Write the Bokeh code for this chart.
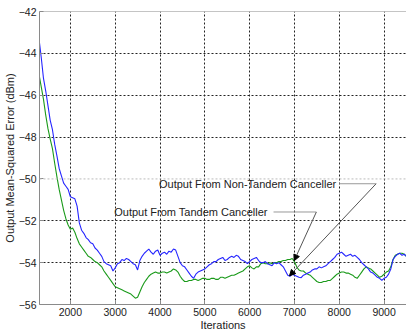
from bokeh.plotting import figure
from bokeh.models import FixedTicker, Span, Label, Arrow, NormalHead, ColumnDataSource, Range1d
from bokeh.embed import file_html
from bokeh.resources import INLINE

iterations = list(range(1300, 9501, 50))

non_tandem = [
    -43.3, -44.2, -45.2, -45.8, -46.5, -47.2, -47.65, -48.35, -48.9, -49.5,
    -49.85, -50.2, -50.35, -50.5, -50.85, -50.9, -50.95, -51.3, -52.1, -52.45,
    -52.6, -52.8, -52.9, -53.05, -53.1, -53.3, -53.4, -53.55, -53.7, -53.95,
    -54.05, -54.1, -54.15, -54.4, -54.25, -54.05, -54.0, -53.85, -53.9, -53.8,
    -53.85, -53.95, -54.05, -54.1, -54.35, -53.9, -53.7, -53.55, -53.45, -53.35,
    -53.5, -53.6, -53.45, -53.4, -53.65, -53.55, -53.5, -53.6, -53.45, -53.5,
    -53.35, -53.4, -53.7, -54.0, -54.15, -54.2, -54.35, -54.5, -54.65, -54.75,
    -54.55, -54.45, -54.4, -54.35, -54.3, -54.2, -54.1, -54.05, -53.95, -53.95,
    -53.85, -53.8, -53.75, -53.9, -53.85, -53.75, -53.7, -53.75, -53.65, -53.7,
    -53.85, -53.9, -53.95, -54.05, -53.95, -53.85, -53.8, -53.75, -53.9, -54.0,
    -54.0, -53.95, -54.05, -54.1, -54.15, -54.0, -54.05, -54.0, -54.1, -54.2,
    -54.4, -54.6, -54.65, -54.55, -54.6, -54.65, -54.7, -54.72, -54.6, -54.55,
    -54.5, -54.45, -54.35, -54.3, -54.3, -54.2, -54.25, -54.2, -54.15, -54.05,
    -53.95, -53.85, -53.75, -53.6, -53.55, -53.5, -53.6, -53.7, -53.65, -53.6,
    -53.7, -53.65, -53.75, -53.85, -54.0, -54.1, -54.2, -54.3, -54.45, -54.5,
    -54.6, -54.7, -54.75, -54.85, -54.75, -54.7, -54.55, -54.3, -53.85, -53.7,
    -53.6, -53.55, -53.65, -53.6, -53.7,
]

tandem = [
    -45.0, -45.6, -46.2, -46.95, -47.6, -48.1, -48.55, -49.25, -49.9, -50.5,
    -51.0, -51.5, -51.9, -52.2, -52.4, -52.35, -52.55, -52.85, -53.1, -53.25,
    -53.4, -53.55, -53.7, -53.75, -53.85, -53.95, -54.0, -54.1, -54.2, -54.4,
    -54.55, -54.7, -54.85, -55.0, -55.15, -55.2, -55.25, -55.3, -55.35, -55.4,
    -55.45, -55.5, -55.6, -55.7, -55.65, -55.4, -55.15, -54.95, -54.8, -54.65,
    -54.55, -54.5, -54.45, -54.5, -54.5, -54.45, -54.45, -54.5, -54.45, -54.4,
    -54.3, -54.35, -54.45, -54.65, -54.8, -54.9, -54.9, -54.85, -54.85, -54.8,
    -54.8, -54.85, -54.8, -54.75, -54.75, -54.8, -54.8, -54.75, -54.75, -54.8,
    -54.8, -54.7, -54.7, -54.75, -54.7, -54.65, -54.6, -54.6, -54.55, -54.5,
    -54.45, -54.4, -54.3, -54.2, -54.15, -54.25, -54.3, -54.2, -54.2, -54.05,
    -54.0, -54.05, -54.05, -54.0, -54.05, -54.0, -54.0, -53.95, -53.95, -53.9,
    -53.9, -53.85, -53.85, -53.8, -53.95, -54.2, -54.35, -54.4, -54.4, -54.5,
    -54.55, -54.6, -54.7, -54.8, -54.9, -54.95, -54.95, -54.9, -54.9, -54.85,
    -54.85, -54.75, -54.65, -54.55, -54.5, -54.45, -54.45, -54.5, -54.5, -54.55,
    -54.6, -54.7, -54.75, -54.6, -54.45, -54.3, -54.2, -54.25, -54.3, -54.4,
    -54.5, -54.6, -54.7, -54.65, -54.55, -54.45, -54.4, -54.2, -53.85, -53.65,
    -53.6, -53.55, -53.55, -53.6, -53.7,
]

x_ticks = [2000, 3000, 4000, 5000, 6000, 7000, 8000, 9000]
y_ticks = [-56, -54, -52, -50, -48, -46, -44, -42]

label_non_tandem = "Output From Non-Tandem Canceller"
label_tandem = "Output From Tandem Canceller"

FONT = "Liberation Sans"

p = figure(width=406, height=334, output_backend="svg", toolbar_location=None,
           x_range=Range1d(1311, 9500), y_range=Range1d(-56, -42),
           min_border_left=37, min_border_right=0, min_border_top=11, min_border_bottom=30)
p.outline_line_color = None
p.background_fill_color = "white"
p.border_fill_color = "white"

for ax in (p.xaxis[0], p.yaxis[0]):
    ax.axis_line_color = "#8a8a8a"
    ax.major_tick_line_color = "#8a8a8a"
    ax.major_tick_in = 4
    ax.major_tick_out = 0
    ax.minor_tick_line_color = None
    ax.major_label_text_font = FONT
    ax.major_label_text_font_size = "10.5px"
    ax.major_label_text_color = "#222222"
    ax.axis_label_text_font = FONT
    ax.axis_label_text_font_size = "11px"
    ax.axis_label_text_font_style = "normal"
    ax.axis_label_text_color = "#222222"
    ax.major_label_standoff = 3
    ax.axis_label_standoff = 0

p.xaxis.ticker = FixedTicker(ticks=x_ticks)
p.yaxis.ticker = FixedTicker(ticks=y_ticks)
p.xaxis.axis_label = "Iterations"
p.yaxis.axis_label = "Output Mean-Squared Error (dBm)"

p.xgrid.ticker = FixedTicker(ticks=x_ticks)
p.ygrid.ticker = FixedTicker(ticks=[t for t in y_ticks if t not in (-50, -42, -56)])
for g in (p.xgrid[0], p.ygrid[0]):
    g.grid_line_color = "#222222"
    g.grid_line_dash = "2 2"
    g.grid_line_width = 1

p.add_layout(Span(location=-50, dimension="width", line_color="#bbbbbb", line_dash="2 2", line_width=1))
p.add_layout(Span(location=-42, dimension="width", line_color="#8a8a8a", line_width=1))

p.line(iterations, tandem, line_color="#1a9a1a", line_width=1.1)
p.line(iterations, non_tandem, line_color="#2525ff", line_width=1.1)

# annotations
nt_text_x, nt_y = 3977, -50.23
t_text_x, t_y = 2978, -51.58
p.add_layout(Label(x=nt_text_x, y=nt_y, text=label_non_tandem, text_font=FONT, text_font_size="11px",
                   text_color="#222222", text_baseline="middle", text_align="left"))
p.add_layout(Label(x=t_text_x, y=t_y, text=label_tandem, text_font=FONT, text_font_size="11px",
                   text_color="#222222", text_baseline="middle", text_align="left"))

seg = ColumnDataSource(dict(x0=[8000, 6533], y0=[nt_y, t_y], x1=[8822, 7489], y1=[nt_y, t_y]))
p.segment(x0="x0", y0="y0", x1="x1", y1="y1", source=seg, line_color="#999999", line_width=1)

p.add_layout(Arrow(x_start=8822, y_start=nt_y, x_end=6889, y_end=-54.63, line_color="#555555", line_width=1,
                   end=NormalHead(size=6, fill_color="black", line_color="black")))
p.add_layout(Arrow(x_start=7489, y_start=t_y, x_end=6993, y_end=-53.91, line_color="#555555", line_width=1,
                   end=NormalHead(size=6, fill_color="black", line_color="black")))

open("out.html", "w").write(file_html(p, INLINE))
